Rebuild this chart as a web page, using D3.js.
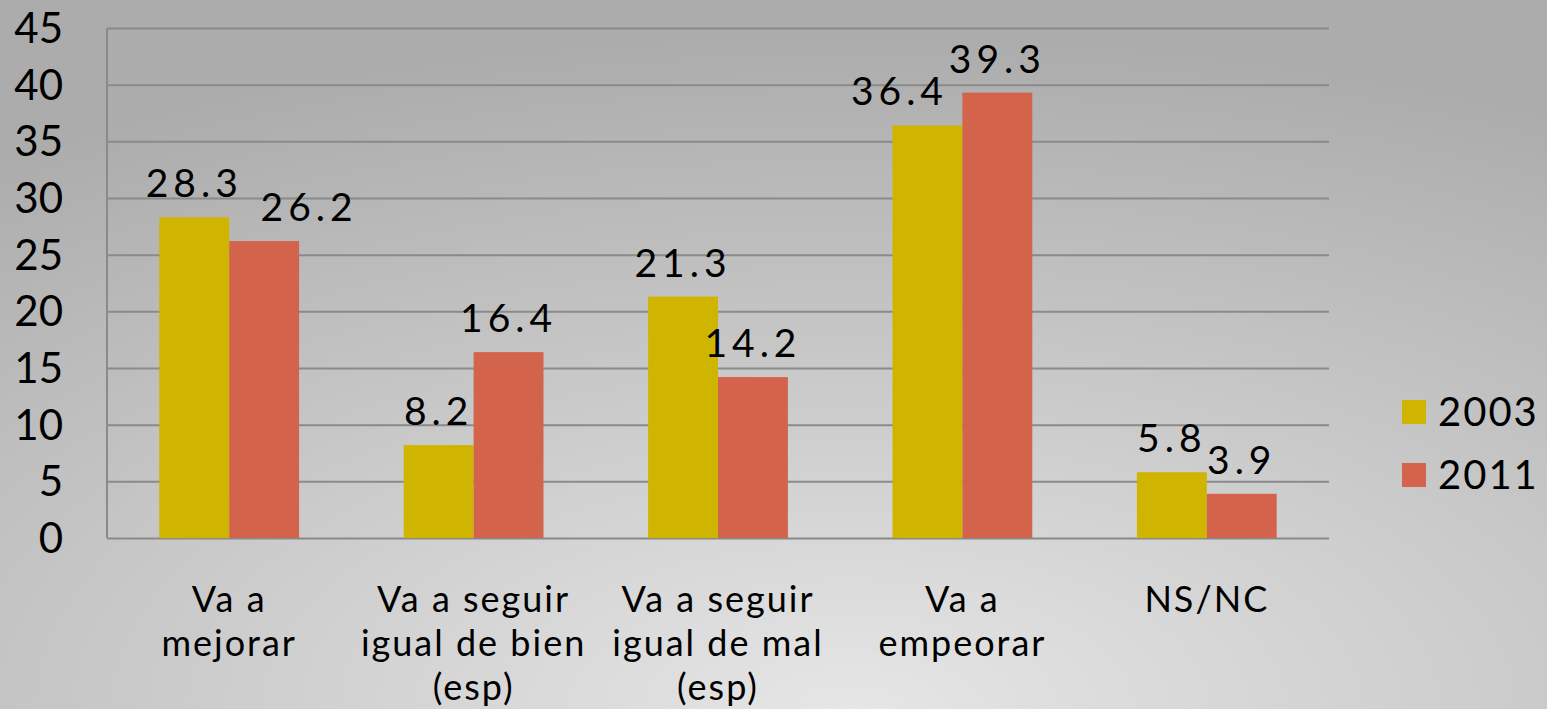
<!DOCTYPE html>
<html>
<head>
  <meta charset="utf-8">
  <title>Expectativas 2003 vs 2011</title>
  <script src="https://d3js.org/d3.v7.min.js"></script>
  <style>
    body, html {
      margin: 0;
      padding: 0;
      width: 100%;
      height: 100%;
      overflow: hidden;
    }
    svg {
      display: block;
      font-family: Lato, "DejaVu Sans", sans-serif;
    }
  </style>
</head>
<body>
  <svg id="chart"></svg>
  <script>
    // data
    var categories = [
      ["Va a", "mejorar"],
      ["Va a seguir", "igual de bien", "(esp)"],
      ["Va a seguir", "igual de mal", "(esp)"],
      ["Va a", "empeorar"],
      ["NS/NC"]
    ];
    var series = ["2003", "2011"];
    var values2003 = [28.3, 8.2, 21.3, 36.4, 5.8];
    var values2011 = [26.2, 16.4, 14.2, 39.3, 3.9];
    var yTicks = [0, 5, 10, 15, 20, 25, 30, 35, 40, 45];
    var colors = ["#cfb400", "#d3644b"];

    var width = 1547, height = 709;
    var margin = {left: 107, right: 218, top: 28, bottom: 171};

    var svg = d3.select("#chart")
      .attr("width", width)
      .attr("height", height);

    // gray background, lighter toward the bottom centre
    var defs = svg.append("defs");
    var grad = defs.append("radialGradient")
      .attr("id", "bg")
      .attr("cx", "55%").attr("cy", "100%")
      .attr("r", "95%");
    grad.append("stop").attr("offset", "0%").attr("stop-color", "#e6e6e6");
    grad.append("stop").attr("offset", "100%").attr("stop-color", "#acacac");
    svg.append("rect")
      .attr("width", width).attr("height", height)
      .attr("fill", "url(#bg)");

    var x0 = d3.scaleBand()
      .domain(d3.range(categories.length))
      .range([margin.left, width - margin.right]);

    var barW = x0.bandwidth() * 0.286;
    var x1 = d3.scaleBand()
      .domain(series)
      .range([x0.bandwidth() / 2 - barW, x0.bandwidth() / 2 + barW]);

    var y = d3.scaleLinear()
      .domain([0, 45])
      .range([height - margin.bottom, margin.top]);

    // gridlines
    svg.append("g")
      .attr("transform", "translate(" + margin.left + ",0)")
      .call(d3.axisLeft(y).tickValues(yTicks)
        .tickSize(-(width - margin.left - margin.right))
        .tickFormat(""))
      .call(function(g) {
        g.select(".domain").remove();
        g.selectAll("line").attr("stroke", "#8a8a8a").attr("stroke-width", 2);
      });

    // left axis line
    svg.append("line")
      .attr("x1", margin.left).attr("x2", margin.left)
      .attr("y1", y(45)).attr("y2", y(0))
      .attr("stroke", "#8a8a8a").attr("stroke-width", 2);

    // y tick labels
    svg.append("g").selectAll("text")
      .data(yTicks)
      .join("text")
      .attr("x", 63)
      .attr("y", function(d) { return y(d); })
      .attr("dy", "0.36em")
      .attr("text-anchor", "end")
      .style("font-size", "42px")
      .attr("fill", "#000")
      .text(function(d) { return d; });

    var rows = values2003.map(function(v, i) {
      return [
        {cat: i, key: "2003", value: v},
        {cat: i, key: "2011", value: values2011[i]}
      ];
    });

    var groups = svg.append("g").selectAll("g")
      .data(rows)
      .join("g")
      .attr("transform", function(d, i) { return "translate(" + x0(i) + ",0)"; });

    groups.selectAll("rect")
      .data(function(d) { return d; })
      .join("rect")
      .attr("x", function(d) { return x1(d.key); })
      .attr("y", function(d) { return y(d.value); })
      .attr("width", x1.bandwidth())
      .attr("height", function(d) { return y(0) - y(d.value); })
      .attr("fill", function(d, i) { return colors[i]; });

    // a couple of labels were nudged sideways in the original
    var labelShift = {"0-2011": 45, "3-2003": -28};

    groups.selectAll("text")
      .data(function(d) { return d; })
      .join("text")
      .attr("x", function(d) {
        return x1(d.key) + x1.bandwidth() / 2 + (labelShift[d.cat + "-" + d.key] || 0);
      })
      .attr("y", function(d) { return y(d.value) - 20; })
      .attr("text-anchor", "middle")
      .style("font-size", "39px")
      .style("letter-spacing", "5px")
      .attr("fill", "#000")
      .text(function(d) { return d.value.toFixed(1); });

    // category labels
    var catLabels = svg.append("g").selectAll("text")
      .data(categories)
      .join("text")
      .attr("x", function(d, i) { return x0(i) + x0.bandwidth() / 2; })
      .attr("y", 612)
      .attr("text-anchor", "middle")
      .style("font-size", "36px")
      .style("letter-spacing", "2px")
      .attr("fill", "#000");

    catLabels.selectAll("tspan")
      .data(function(d) { return d; })
      .join("tspan")
      .attr("x", function() { return this.parentNode.getAttribute("x"); })
      .attr("dy", function(d, i) { return i === 0 ? 0 : 44; })
      .text(function(d) { return d; });

    // legend
    var legend = svg.append("g").selectAll("g")
      .data(series)
      .join("g")
      .attr("transform", function(d, i) { return "translate(1402," + (400 + i * 63) + ")"; });

    legend.append("rect")
      .attr("width", 24).attr("height", 24)
      .attr("fill", function(d, i) { return colors[i]; });

    legend.append("text")
      .attr("x", 36)
      .attr("y", 12)
      .attr("dy", "0.36em")
      .style("font-size", "40px")
      .style("letter-spacing", "2px")
      .attr("fill", "#000")
      .text(function(d) { return d; });
  </script>
</body>
</html>
